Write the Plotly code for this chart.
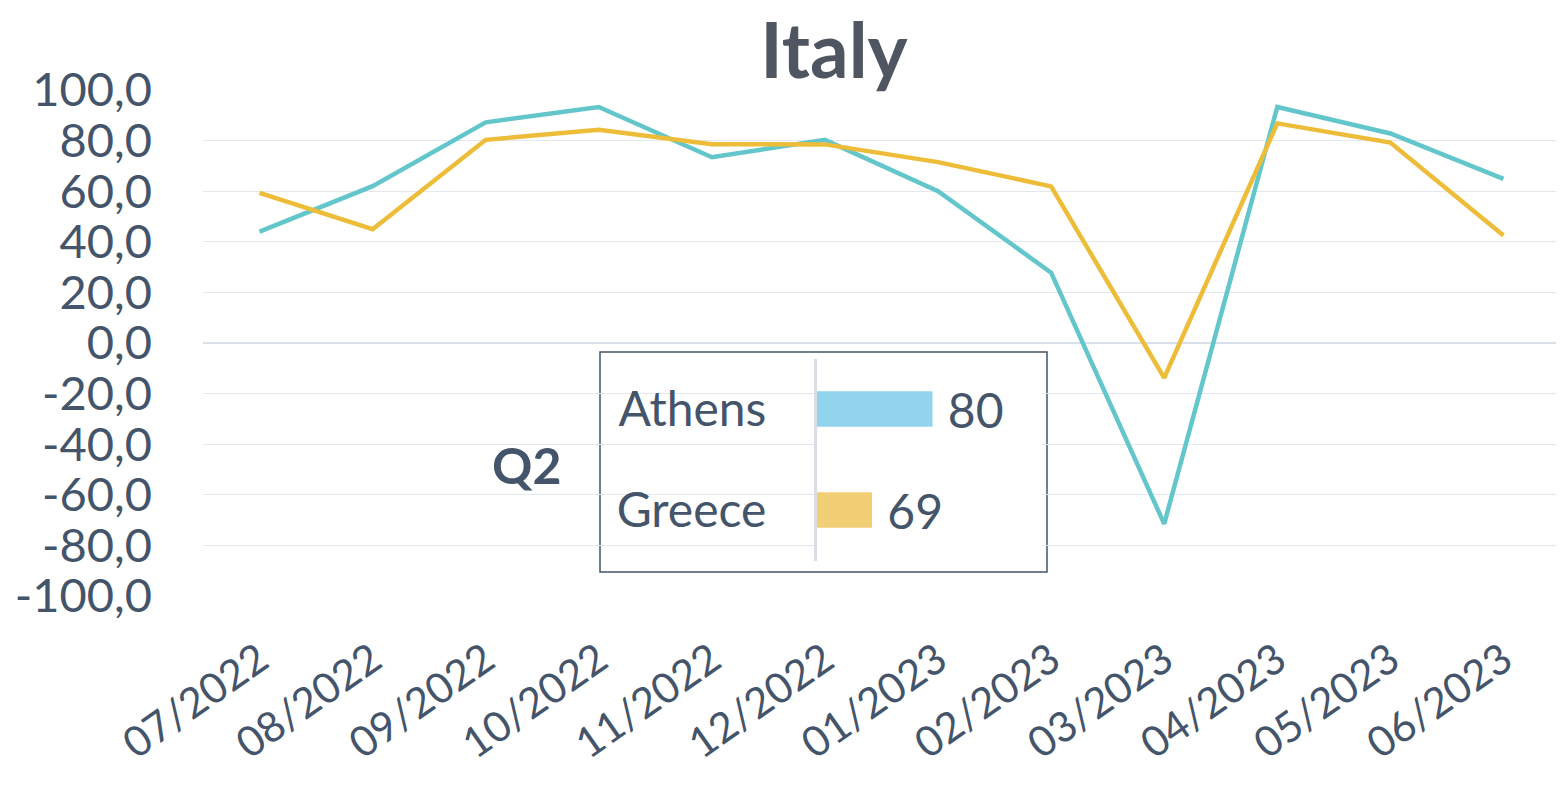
import plotly.graph_objects as go

months = ["07/2022", "08/2022", "09/2022", "10/2022", "11/2022", "12/2022",
          "01/2023", "02/2023", "03/2023", "04/2023", "05/2023", "06/2023"]
athens = [44.0, 62.0, 87.2, 93.3, 73.4, 80.3, 60.0, 27.8, -71.5, 93.3, 82.8, 64.9]
greece = [59.3, 45.0, 80.3, 84.3, 78.6, 78.5, 71.5, 61.9, -13.8, 86.8, 79.2, 42.5]

y_tick_vals = [100, 80, 60, 40, 20, 0, -20, -40, -60, -80, -100]
y_tick_text = ["100,0", "80,0", "60,0", "40,0", "20,0", "0,0",
               "-20,0", "-40,0", "-60,0", "-80,0", "-100,0"]

inset_names = ["Athens", "Greece"]
inset_values = [80, 69]

TEXT = "#44546A"
FONT = "Lato"
OFF = 8  # default body margin of the html page
W, H = 1564 - OFF, 793 - OFF
# plot area in page pixels
PL, PR, PT, PB = 203, 1560, 90, 596

def px(x):
    return (x - PL) / (PR - PL)

def py(y):
    return (PB - y) / (PB - PT)

fig = go.Figure()
fig.add_trace(go.Scatter(x=months, y=athens, mode="lines", name="Athens",
                         line=dict(color="#62C6CB", width=4.5), showlegend=False))
fig.add_trace(go.Scatter(x=months, y=greece, mode="lines", name="Greece",
                         line=dict(color="#EDBD3A", width=4.5), showlegend=False))

fig.add_trace(go.Bar(y=inset_names, x=inset_values, orientation="h",
                     marker=dict(color=["#92D3EE", "#F2CF75"], line=dict(width=0)),
                     width=0.35, xaxis="x2", yaxis="y2",
                     text=inset_values, texttemplate="\u00a0%{x}",
                     textposition="outside",
                     textfont=dict(size=48, color=TEXT, family=FONT),
                     constraintext="none", cliponaxis=False, showlegend=False))

fig.update_layout(
    width=W, height=H,
    margin=dict(l=PL - OFF, r=W - (PR - OFF), t=PT - OFF,
                b=H - (PB - OFF), autoexpand=False),
    paper_bgcolor="white", plot_bgcolor="white",
    font=dict(family=FONT, color=TEXT),
    title=dict(text="<b>Italy</b>", x=(834 - OFF) / W, xanchor="center",
               y=1 - (51 - OFF) / H, yanchor="middle",
               font=dict(size=76, color="#4F5561", family=FONT)),
    xaxis=dict(type="category", range=[-0.5, 11.5], showgrid=False, showline=False,
               zeroline=False, tickangle=-35, tickfont=dict(size=42, color=TEXT),
               ticks="", ticklabelstandoff=30),
    yaxis=dict(range=[-100, 100], tickvals=y_tick_vals, ticktext=y_tick_text,
               showgrid=True, gridcolor="#E5E7EE", gridwidth=1,
               zeroline=True, zerolinecolor="#D9E0EA", zerolinewidth=2,
               tickfont=dict(size=47, color=TEXT), ticks="", ticklabelstandoff=50,
               showline=False),
    xaxis2=dict(domain=[px(817), px(1042.5)], range=[59, 100], anchor="y2",
                visible=False),
    yaxis2=dict(domain=[py(560.5), py(358.5)], anchor="x2", type="category",
                categoryarray=inset_names, autorange="reversed",
                showline=True, linecolor="#D9DEE6", linewidth=3,
                showgrid=False, ticks="", ticklabelstandoff=38,
                tickfont=dict(size=48, color=TEXT)),
    shapes=[dict(type="rect", xref="paper", yref="paper",
                 x0=px(600), x1=px(1047), y0=py(572), y1=py(352),
                 line=dict(color="#44546A", width=1.5), fillcolor="rgba(0,0,0,0)",
                 layer="below")],
    annotations=[dict(text="<b>Q2</b>", xref="paper", yref="paper",
                      x=px(526), y=py(465), xanchor="center", yanchor="middle",
                      showarrow=False,
                      font=dict(size=50, color=TEXT, family=FONT))],
)

fig.write_html("out.html")
